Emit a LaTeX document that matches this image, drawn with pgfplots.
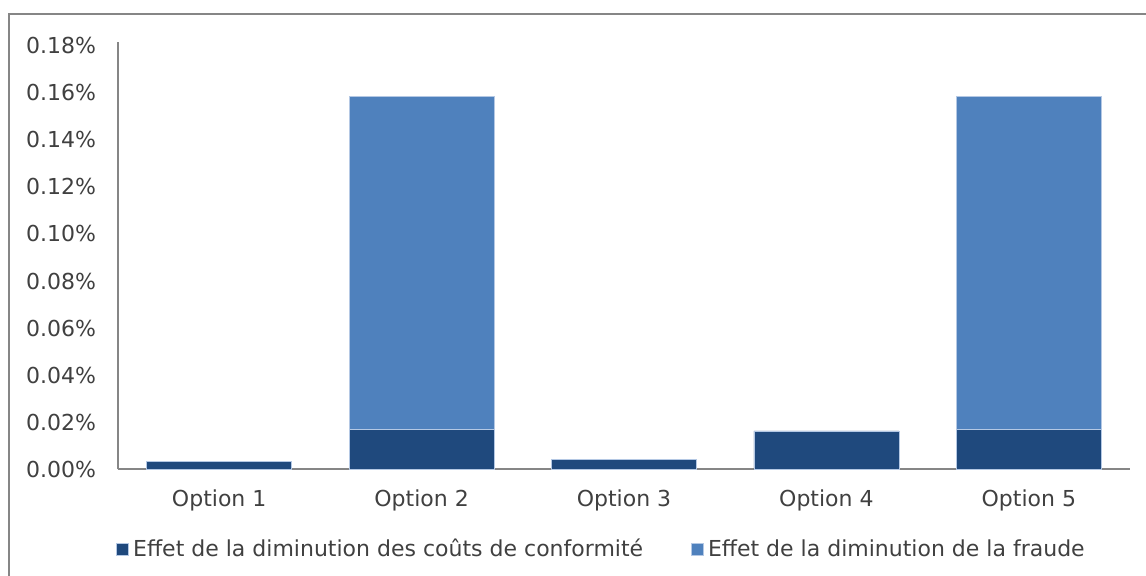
\documentclass[border=0pt]{standalone}
\usepackage{pgfplots}
\pgfplotsset{compat=1.18}
\usepackage{fontspec}
\setmainfont{DejaVu Sans}
\definecolor{darkb}{RGB}{31,73,125}
\definecolor{lightb}{RGB}{79,129,189}
\definecolor{edgeb}{RGB}{180,200,228}
\definecolor{axgrey}{RGB}{134,134,134}
\definecolor{txt}{RGB}{64,64,64}
\begin{document}
\begin{tikzpicture}
\useasboundingbox (0pt,0pt) rectangle (573pt,-287.5pt);
\draw[axgrey, line width=1pt] (4.5pt,-300pt) -- (4.5pt,-6.75pt) -- (580pt,-6.75pt);
\begin{axis}[
  at={(59pt,-234.65pt)}, anchor=south west,
  scale only axis, width=506pt, height=213.5pt,
  ybar stacked, bar width=72.5pt,
  xmin=-0.5, xmax=4.5, ymin=0, ymax=0.1814,
  xtick={0,1,2,3,4}, xticklabels={Option 1,Option 2,Option 3,Option 4,Option 5},
  ytick={0,0.02,0.04,0.06,0.08,0.10,0.12,0.14,0.16,0.18},
  yticklabel={\pgfmathprintnumber[fixed,fixed zerofill,precision=2]{\tick}\%},
  /pgf/number format/assume math mode=true,
  major tick length=0pt,
  axis x line*=bottom, axis y line*=left,
  axis line style={axgrey, line width=1pt, -},
  ticklabel style={font=\fontsize{11}{13}\selectfont, text=txt},
  yticklabel style={xshift=-7.5pt},
  xticklabel style={yshift=-6.5pt},
  legend columns=2,
  legend style={draw=none, fill=none, at={(-0.002,-0.187)}, anchor=west,
    font=\fontsize{11}{13}\selectfont, text=txt,
    /tikz/every even column/.append style={column sep=22pt},
    inner sep=0pt, nodes={inner sep=2pt}},
  legend image code/.code={\fill[#1] (0pt,-3pt) rectangle (6pt,3pt);},
]
\addplot[fill=darkb, draw=edgeb, line width=0.4pt] coordinates {(0,0.0034) (1,0.0168) (2,0.0042) (3,0.0163) (4,0.0171)};
\addlegendentry{Effet de la diminution des coûts de conformité}
\addplot[fill=lightb, draw=edgeb, line width=0.4pt] coordinates {(0,0) (1,0.1417) (2,0) (3,0) (4,0.1414)};
\addlegendentry{Effet de la diminution de la fraude}
\end{axis}
\end{tikzpicture}
\end{document}
